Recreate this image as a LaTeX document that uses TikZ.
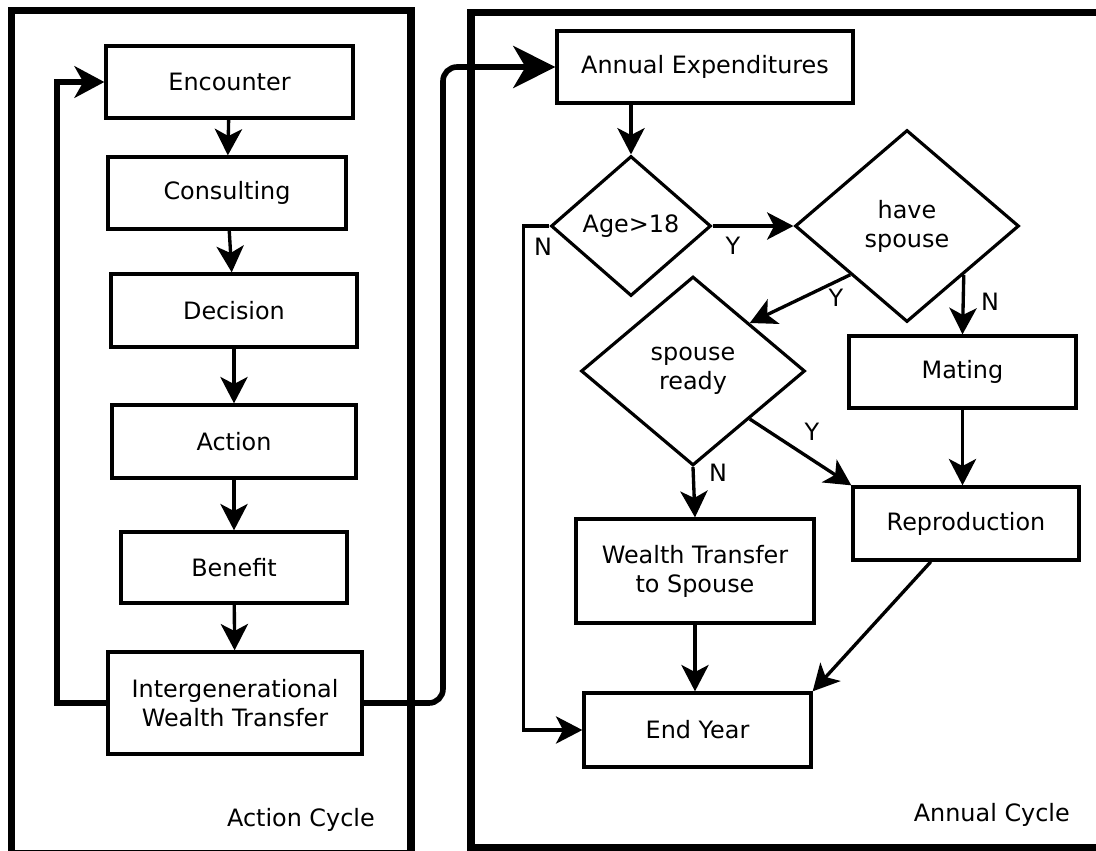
\documentclass[tikz,border=0pt]{standalone}
\usepackage{fontspec}
\setmainfont{DejaVu Sans}
\usetikzlibrary{arrows.meta, shapes.geometric}

\begin{document}
\begin{tikzpicture}[
    x=0.02cm, y=-0.02cm,
    >={Stealth[length=15pt,width=15.5pt,inset=4pt]},
    every node/.style={font=\fontsize{13.6}{16.5}\selectfont},
    box/.style={draw, line width=1.9pt, align=center, inner sep=2pt},
    query/.style={diamond, draw, line width=1.8pt, align=center, inner sep=0pt},
    flow/.style={->, line width=1.9pt},
    loopline/.style={line width=3.2pt, -{Stealth[length=17pt,width=18pt,inset=5pt]}},
    linkline/.style={line width=3.2pt, rounded corners=8pt, -{Stealth[length=24pt,width=24pt,inset=7pt]}},
    frame/.style={line width=4pt},
    tag/.style={inner sep=1pt},
]
\useasboundingbox (0,0) rectangle (1096,850);
\fill[white] (0,0) rectangle (1096,850);
\clip (0,0) rectangle (1096,850);
% the two panels
\draw[frame] (11.5,10.5) rectangle (411,853);
\draw[frame] (471,12.5) rectangle (1101,847);
\node[anchor=east] (actcyc) at (381,820) {Action Cycle};
\node[anchor=east] (anncyc) at (1076,815) {Annual Cycle};

% action cycle
\node[box, minimum width=4.94cm, minimum height=1.44cm] (enc) at (229.5,82) {Encounter};
\node[box, minimum width=4.76cm, minimum height=1.44cm] (cons) at (227,193) {Consulting};
\node[box, minimum width=4.92cm, minimum height=1.46cm] (dec) at (234,310.5) {Decision};
\node[box, minimum width=4.88cm, minimum height=1.46cm] (act) at (234,441.5) {Action};
\node[box, minimum width=4.52cm, minimum height=1.42cm] (ben) at (234,567.5) {Benefit};
\node[box, minimum width=5.08cm, minimum height=2.04cm] (iwt) at (235,703)
   {Intergenerational\\Wealth Transfer};
\draw[flow] (enc) -- (cons);
\draw[flow] (cons) -- (dec);
\draw[flow] (dec) -- (act);
\draw[flow] (act) -- (ben);
\draw[flow] (ben) -- (iwt);
% back to the next encounter
\coordinate (lp) at (57,703);
\draw[loopline] (iwt.west) -- (lp) |- (enc.west);

% annual cycle
\node[box, minimum width=5.92cm, minimum height=1.44cm] (ae) at (705,67) {Annual Expenditures};
\node[query, minimum width=3.2cm, minimum height=2.8cm] (age) at (631,226) {Age>18};
\node[query, minimum width=4.48cm, minimum height=3.84cm] (hsp) at (907,226) {have\\spouse};
\node[query, minimum width=4.48cm, minimum height=3.78cm] (srd) at (693,371) {spouse\\ready};
\node[box, minimum width=4.54cm, minimum height=1.44cm] (mat) at (962.5,372) {Mating};
\node[box, minimum width=4.52cm, minimum height=1.46cm] (rep) at (966,523.5) {Reproduction};
\node[box, minimum width=4.76cm, minimum height=2.08cm] (wts) at (695,571) {Wealth Transfer\\to Spouse};
\node[box, minimum width=4.54cm, minimum height=1.48cm] (endy) at (697.5,730) {End Year};
\draw[flow] (ae.south -| age.north) -- (age.north);
\draw[flow] (age.east) -- (hsp.west);
\draw[flow] (age.west) -- ++(-26,0) |- (endy.west);
\draw[flow] (hsp.south west) -- (srd.north east);
\draw[flow] (hsp.south east) -- (mat.north);
\draw[flow] (mat) -- (mat |- rep.north);
\draw[flow] (srd.south) -- (wts.north);
\draw[flow] (srd.south east) -- (rep.north west);
\draw[flow] (wts) -- (wts |- endy.north);
\draw[flow] ([xshift=-20pt]rep.south) -- (endy.north east);
% yes / no labels
\node[tag] (y1) at (733,246) {Y};
\node[tag] (n1) at (543,247) {N};
\node[tag] (y2) at (836,298) {Y};
\node[tag] (n2) at (990,302) {N};
\node[tag] (y3) at (812,432) {Y};
\node[tag] (n3) at (718,473) {N};

% into the annual cycle
\coordinate (up) at (443,703);
\draw[linkline] (iwt.east) -- (up) |- (ae.west);
\end{tikzpicture}
\end{document}
